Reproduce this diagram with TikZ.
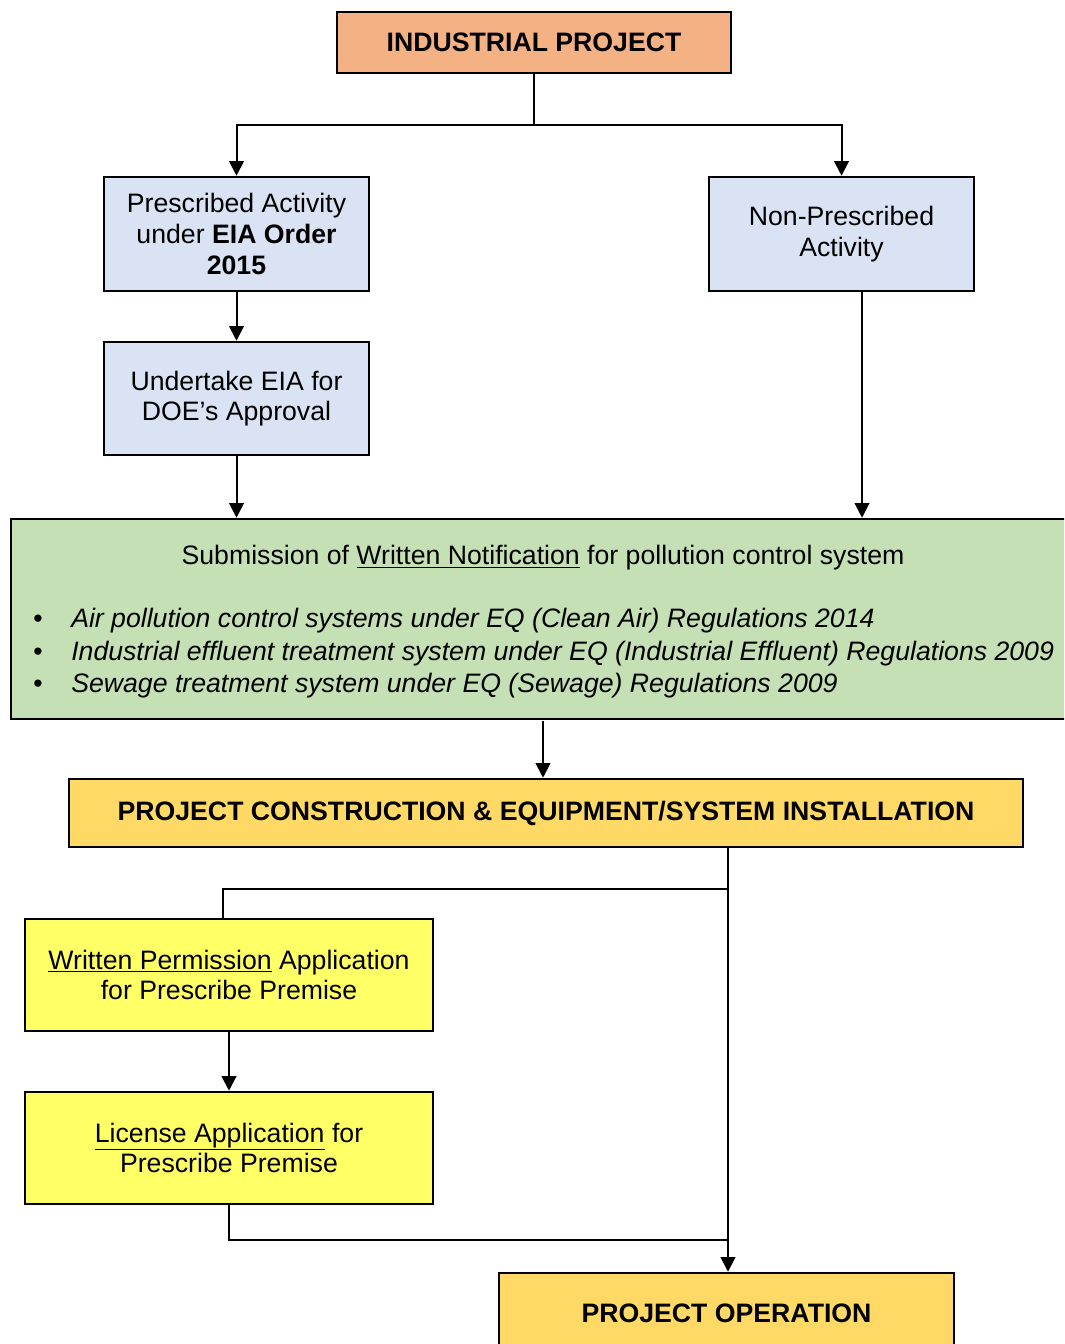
\documentclass[tikz,border=0pt]{standalone}
\usepackage{fontspec}
\setmainfont{Liberation Sans}
\usetikzlibrary{arrows.meta}
\definecolor{peach}{HTML}{F4B183}
\definecolor{paleblue}{HTML}{DAE3F3}
\definecolor{palegreen}{HTML}{C5E0B4}
\definecolor{gold}{HTML}{FFD966}
\definecolor{lemon}{HTML}{FFFF66}
\begin{document}
\begin{tikzpicture}[x=0.75pt,y=-0.75pt,
  box/.style={draw=black, line width=1.9pt, inner sep=0pt, align=center,
    font=\fontsize{20}{23}\selectfont},
  txt/.style={inner sep=0pt, font=\fontsize{20}{23}\selectfont},
  conn/.style={line width=1.5pt},
  arr/.style={conn, -{Triangle[length=11pt,width=11pt]}}]

\clip (0,0) rectangle (1064,1344);
\fill[white] (0,0) rectangle (1064,1344);

% boxes
\node[box, fill=peach, minimum width=295.5pt, minimum height=45.75pt,
  font=\fontsize{20}{23}\selectfont\bfseries] (ind) at (534,42.5)
  {\raisebox{-1.5pt}{INDUSTRIAL PROJECT}};
\node[box, fill=paleblue, minimum width=198.75pt, minimum height=85.5pt] (presc) at (236.5,234)
  {Prescribed Activity\\under \textbf{EIA Order}\\\textbf{2015}};
\node[box, fill=paleblue, minimum width=198.75pt, minimum height=85.5pt] (nonp) at (841.5,234)
  {Non-Prescribed\\Activity};
\node[box, fill=paleblue, minimum width=198.75pt, minimum height=84.75pt] (undert) at (236.5,398.5)
  {Undertake EIA for\\DOE’s Approval};
\node[box, fill=palegreen, minimum width=796pt, minimum height=150pt] (green) at (541.5,619) {};
\node[box, fill=gold, minimum width=715.5pt, minimum height=51pt,
  font=\fontsize{20}{23}\selectfont\bfseries] (constr) at (546,813)
  {\raisebox{-1.5pt}{PROJECT CONSTRUCTION \& EQUIPMENT/SYSTEM INSTALLATION}};
\node[box, fill=lemon, minimum width=306pt, minimum height=84pt] (wperm) at (229,975)
  {\underline{Written Permission} Application\\for Prescribe Premise};
\node[box, fill=lemon, minimum width=306pt, minimum height=84pt] (lic) at (229,1148)
  {\underline{License Application} for\\Prescribe Premise};
\node[box, fill=gold, minimum width=341.25pt, minimum height=60pt,
  font=\fontsize{20}{23}\selectfont\bfseries] (oper) at (726.5,1313) {PROJECT OPERATION};

% text inside the notification box
\node[txt] (ttl) at (543,558) {Submission of \underline{Written Notification} for pollution control system};
\foreach \yy/\t [count=\i] in {621/{Air pollution control systems under EQ (Clean Air) Regulations 2014},
    654/{Industrial effluent treatment system under EQ (Industrial Effluent) Regulations 2009},
    686/{Sewage treatment system under EQ (Sewage) Regulations 2009}} {
  \node[txt] (b\i) at (38,\yy) {•};
  \node[txt, anchor=west, font=\fontsize{20}{23}\selectfont\itshape] (l\i) at (71,\yy) {\t};
}

% connectors
\coordinate (split) at (534,125);
\draw[conn] (ind.south) -- (split);
\draw[arr] (split) -| (presc.north);
\draw[arr] (split) -| (nonp.north);
\draw[arr] (presc.south) -- (undert.north);
\draw[arr] (undert.south) -- (undert.south |- green.north);
\coordinate (nd) at (862,291);
\draw[arr] (nd) -- (nd |- green.north);
\draw[arr] (543,721) coordinate (gs) -- (gs |- constr.north);
\coordinate (tap) at (728,889);
\coordinate (wtop) at (223,889);
\draw[arr] (tap |- constr.south) -- (tap |- oper.north);
\draw[conn] (tap) -- (wtop) -- (wtop |- wperm.north);
\draw[arr] (wperm.south) -- (lic.north);
\coordinate (join) at (728,1240);
\draw[conn] (lic.south) |- (join);
\end{tikzpicture}
\end{document}
